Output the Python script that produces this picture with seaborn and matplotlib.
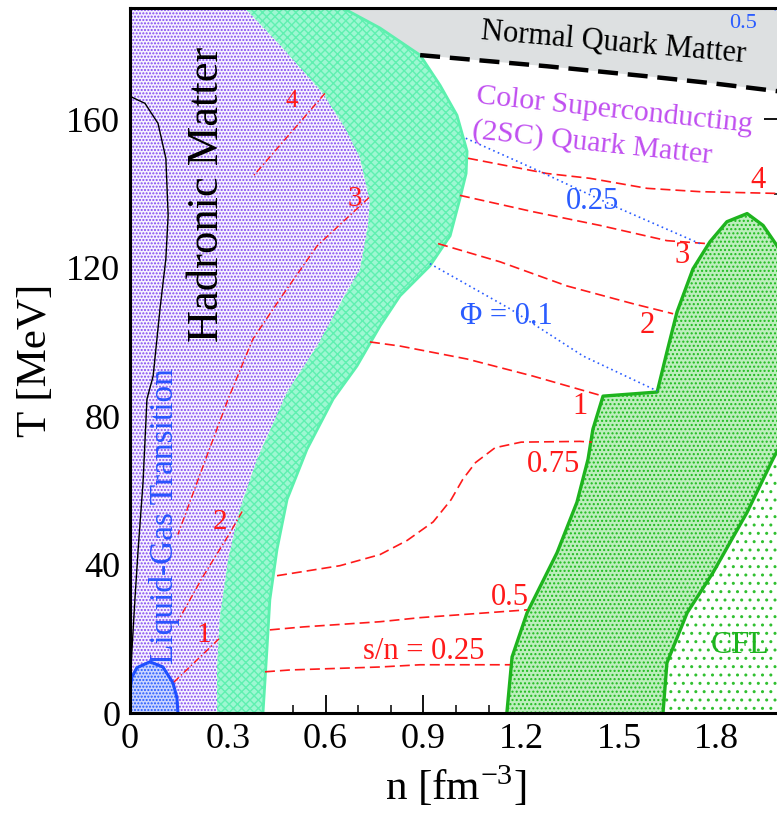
import matplotlib
matplotlib.use('Agg')
import matplotlib.pyplot as plt
import seaborn as sns
import numpy as np

# phase boundaries: n [fm^-3], T [MeV]
hadron_edge_n = [0.30, 0.347, 0.469, 0.592, 0.660, 0.706, 0.736, 0.730, 0.706, 0.653, 0.574,
                 0.482, 0.390, 0.337, 0.301, 0.276, 0.267, 0.267]
hadron_edge_T = [195, 190.5, 179.2, 167.0, 157.6, 149.5, 137.8, 131.4, 119.7, 111.6, 98.9,
                 86.5, 68.4, 54.9, 41.4, 25.9, 12.4, 0]
band_edge_n = [0.55, 0.653, 0.767, 0.890, 0.951, 1.003, 1.034, 1.031, 1.012, 0.982, 0.920,
               0.828, 0.767, 0.696, 0.623, 0.543, 0.482, 0.451, 0.429, 0.420, 0.408]
band_edge_T = [195, 190.0, 184.6, 177.3, 169.2, 161.1, 151.4, 145.4, 138.6, 128.6, 120.5,
               112.4, 104.3, 93.5, 84.6, 71.1, 57.6, 44.1, 30.5, 17.0, 0]
nq_n = [0.890, 1.279, 1.586, 1.788, 1.985, 2.05]
nq_T = [177.3, 174.3, 171.6, 169.7, 167.6, 166.8]
lg_n = [0.0, 0.046, 0.086, 0.110, 0.117, 0.110, 0.092, 0.071, 0.052, 0.040, 0.025, 0.015, 0.006, 0.0]
lg_T = [166.2, 164.3, 158.9, 149.5, 134.1, 122.4, 108.9, 90.8, 84.6, 62.2, 44.1, 30.5, 17.0, 6.2]
liq_n = [0.0, 0.006, 0.021, 0.061, 0.101, 0.132, 0.144, 0.147]
liq_T = [6.2, 9.7, 12.2, 13.8, 12.4, 8.1, 4.1, 0]
mix_n = [1.156, 1.172, 1.218, 1.310, 1.371, 1.405, 1.420, 1.451, 1.617, 1.647, 1.678, 1.727,
         1.779, 1.831, 1.893, 1.942, 1.985, 2.03]
mix_T = [0, 15.1, 27.0, 43.2, 56.8, 68.4, 76.5, 85.4, 86.5, 97.3, 108.1, 119.7,
         127.0, 132.4, 134.6, 131.4, 125.9, 118]
cfl_n = [1.635, 1.647, 1.709, 1.788, 1.893, 1.972, 2.03]
cfl_T = [0, 13.5, 27.0, 37.8, 54.1, 68.4, 78]

# isentropes s/n in quark matter
sn025_n = [0.414, 0.491, 0.767, 0.890, 1.166]
sn025_T = [11.1, 11.6, 12.4, 13.0, 13.0]
sn05_n = [0.429, 0.531, 0.767, 0.890, 1.218]
sn05_T = [22.4, 23.2, 24.6, 25.7, 27.8]
sn075_n = [0.451, 0.644, 0.767, 0.850, 0.930, 0.985, 1.021, 1.060, 1.120, 1.200, 1.380, 1.417]
sn075_T = [37.0, 39.7, 42.7, 46.5, 51.5, 57.5, 63.0, 67.5, 71.5, 73.0, 73.2, 73.0]
sn1_n = [0.736, 0.828, 1.034, 1.236, 1.451]
sn1_T = [100.0, 98.9, 95.4, 90.8, 85.4]
sn2_n = [0.945, 1.135, 1.340, 1.543, 1.666]
sn2_T = [126.5, 121.6, 115.1, 110.3, 107.6]
sn3_n = [1.012, 1.236, 1.442, 1.647, 1.770]
sn3_T = [139.5, 135.1, 131.4, 127.3, 126.5]
sn4_n = [1.037, 1.279, 1.411, 1.586, 1.748, 2.0]
sn4_T = [149.5, 145.4, 144.1, 141.4, 140.5, 140.0]

# isentropes in hadronic matter
h4_n = [0.598, 0.377]
h4_T = [167.0, 144.6]
h3_n = [0.733, 0.574, 0.460, 0.377, 0.301, 0.224, 0.147]
h3_T = [138.9, 125.9, 111.6, 100.8, 84.6, 66.5, 48.1]
h2_n = [0.344, 0.307, 0.224, 0.144]
h2_T = [54.3, 48.6, 36.8, 24.3]
h1_n = [0.273, 0.215, 0.132]
h1_T = [20.0, 15.1, 8.1]

# Phi contours
phi01_n = [0.920, 1.166, 1.390, 1.617]
phi01_T = [121.1, 108.9, 96.2, 86.8]
phi025_n = [1.03, 1.236, 1.503, 1.748]
phi025_T = [154.9, 146.8, 135.9, 126.5]
phi05_n = [1.95, 2.0]
phi05_T = [191.0, 188.5]

x_ticks = [0, 0.3, 0.6, 0.9, 1.2, 1.5, 1.8]
x_labels = ['0', '0.3', '0.6', '0.9', '1.2', '1.5', '1.8']
y_ticks = [0, 40, 80, 120, 160]
y_labels = ['0', '40', '80', '120', '160']

sns.set_theme(style='ticks')
plt.rcParams['font.family'] = ['Liberation Serif', 'DejaVu Serif']
plt.rcParams['mathtext.fontset'] = 'stix'
plt.rcParams['hatch.linewidth'] = 1.0

fig = plt.figure(figsize=(7.77, 8.23), dpi=100)
ax = fig.add_axes([130 / 777, 110 / 823, 652 / 777, 705 / 823])

# regions
ax.fill([0, 0] + hadron_edge_n, [0, 195] + hadron_edge_T, facecolor='#f6f2ff',
        edgecolor='#8045f0', hatch='.....', lw=0, zorder=1)
ax.fill([0.62, 0.62] + nq_n + [2.05], [200, 177.3] + nq_T + [200],
        facecolor='#dde0e1', lw=0, zorder=1)
ax.fill(hadron_edge_n + band_edge_n[::-1], hadron_edge_T + band_edge_T[::-1],
        facecolor='#9ef7d2', edgecolor='#5ff0b0', hatch='xxxx', lw=0, zorder=2)
ax.fill(mix_n + [2.05, 2.05], mix_T + [118, 0], facecolor='#bdeebd',
        edgecolor='#1fbb1f', hatch='....', lw=0, zorder=2)
ax.fill(cfl_n + [2.05, 2.05], cfl_T + [78, 0], facecolor='white',
        edgecolor='#30c030', hatch='..', lw=0, zorder=2)
ax.fill([0] + liq_n, [0] + liq_T, facecolor='#c9d5ff', edgecolor='#2255ff',
        hatch='.....', lw=0, zorder=2)

# boundaries
sns.lineplot(x=band_edge_n, y=band_edge_T, sort=False, estimator=None, color='#5cf0ae', lw=2, ax=ax, zorder=3)
sns.lineplot(x=mix_n, y=mix_T, sort=False, estimator=None, color='#1eb41e', lw=2.4, ax=ax, zorder=3)
sns.lineplot(x=cfl_n, y=cfl_T, sort=False, estimator=None, color='#1eb41e', lw=2.4, ax=ax, zorder=3)
sns.lineplot(x=liq_n, y=liq_T, sort=False, estimator=None, color='#1f4fff', lw=2.2, ax=ax, zorder=3)
sns.lineplot(x=lg_n, y=lg_T, sort=False, estimator=None, color='black', lw=1.0, ax=ax, zorder=3)
sns.lineplot(x=nq_n, y=nq_T, sort=False, estimator=None, color='black', lw=3.2,
             linestyle=(0, (4.5, 2.2)), ax=ax, zorder=3)

red = '#ff1a1a'
for xs, ys in [(sn025_n, sn025_T), (sn05_n, sn05_T), (sn075_n, sn075_T), (sn1_n, sn1_T),
               (sn2_n, sn2_T), (sn3_n, sn3_T), (sn4_n, sn4_T)]:
    sns.lineplot(x=xs, y=ys, sort=False, estimator=None, color=red, lw=1.2,
                 linestyle=(0, (6, 3)), ax=ax, zorder=4)
for xs, ys in [(h4_n, h4_T), (h3_n, h3_T), (h2_n, h2_T), (h1_n, h1_T)]:
    sns.lineplot(x=xs, y=ys, sort=False, estimator=None, color=red, lw=1.0,
                 linestyle=(0, (5, 2, 1, 2)), ax=ax, zorder=4)
blue = '#2a5cff'
for xs, ys in [(phi01_n, phi01_T), (phi025_n, phi025_T), (phi05_n, phi05_T)]:
    sns.lineplot(x=xs, y=ys, sort=False, estimator=None, color=blue, lw=1.2,
                 linestyle=(0, (1, 2)), ax=ax, zorder=4)

# labels
ax.text(0.235, 139.7, 'Hadronic Matter', rotation=90, fontsize=32, color='black',
        ha='center', va='center', zorder=5)
ax.text(0.105, 53, 'Liquid-Gas Transition', rotation=90, fontsize=24, color='#2a55ff',
        ha='center', va='center', zorder=5)
ax.text(1.482, 180.5, 'Normal Quark Matter', rotation=-5, fontsize=22, color='black',
        ha='center', va='center', zorder=5)
ax.text(1.485, 162.4, 'Color Superconducting', rotation=-6, fontsize=21.5, color='#c04ff0',
        ha='center', va='center', zorder=5)
ax.text(1.417, 153.5, '(2SC) Quark Matter', rotation=-6, fontsize=21.5, color='#c04ff0',
        ha='center', va='center', zorder=5)
ax.text(1.871, 18.1, 'CFL', fontsize=23, color='#1eb41e', ha='center', va='center', zorder=5)

for s, x, y, fs in [('4', 0.497, 164.9, 18), ('3', 0.690, 138.6, 21), ('2', 0.276, 51.6, 21),
                    ('1', 0.227, 21.1, 21), ('4', 1.926, 143.5, 22), ('3', 1.693, 123.2, 22),
                    ('2', 1.586, 104.3, 22), ('1', 1.380, 82.7, 22), ('0.75', 1.298, 67.0, 22),
                    ('0.5', 1.166, 31.1, 22), ('s/n = 0.25', 0.902, 16.5, 22)]:
    ax.text(x, y, s, fontsize=fs, color=red, ha='center', va='center', zorder=5)
for s, x, y, fs in [('0.25', 1.420, 137.8, 22), ('Φ = 0.1', 1.156, 106.8, 22),
                    ('0.5', 1.880, 185.9, 16)]:
    ax.text(x, y, s, fontsize=fs, color=blue, ha='center', va='center', zorder=5)

ax.set_xlim(0, 2.0)
ax.set_ylim(0, 190)
ax.set_xticks(x_ticks)
ax.set_xticklabels(x_labels)
ax.set_yticks(y_ticks)
ax.set_yticklabels(y_labels)
ax.set_xticks(np.arange(0, 2.01, 0.1), minor=True)
ax.set_yticks(np.arange(0, 191, 20), minor=True)
ax.tick_params(which='both', direction='in', top=True, right=True, colors='black',
               labelsize=26, pad=7)
ax.tick_params(which='major', length=13, width=1.3)
ax.tick_params(which='minor', length=6, width=1.1)
for sp in ax.spines.values():
    sp.set_linewidth(2.2)
    sp.set_color('black')
    sp.set_zorder(6)
ax.set_xlabel('n [fm$^{\\mathregular{-3}}$]', fontsize=31, labelpad=6, color='black')
ax.set_ylabel('T [MeV]', fontsize=31, labelpad=8, color='black')
ax.grid(False)

fig.savefig('out.png', dpi=100)
